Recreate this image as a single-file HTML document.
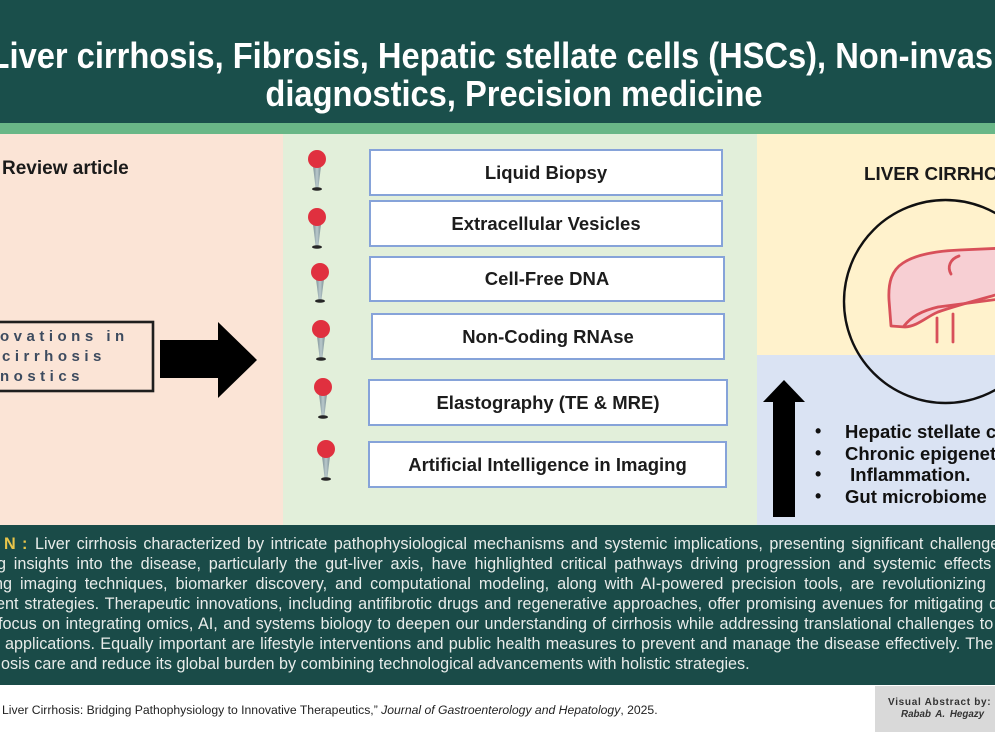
<!DOCTYPE html>
<html><head><meta charset="utf-8">
<style>
html,body{margin:0;padding:0;overflow:hidden;width:995px;height:740px;}
body{background:#fff;font-family:"Liberation Sans",Arial,sans-serif;}
#wrap{position:relative;width:995px;height:740px;overflow:hidden;}
.a{position:absolute;}
.t{position:absolute;white-space:nowrap;}
.box{position:absolute;box-sizing:border-box;border:2px solid #86a3d9;background:#fff;display:flex;align-items:center;justify-content:center;font-weight:bold;font-size:18.5px;color:#1c1c1c;white-space:nowrap;}
.bl{position:absolute;white-space:nowrap;font-size:16.2px;line-height:20px;color:#e8ecea;}
</style></head><body>
<div id="wrap">

<!-- header -->
<div class="a" style="left:0;top:0;width:995px;height:123px;background:#1a4f4b"></div>
<div class="a" style="left:0;top:123px;width:995px;height:11px;background:#69b787"></div>
<div class="t" style="left:-136.5px;top:37px;width:1300px;text-align:center;color:#fff;font-weight:bold;font-size:36px;line-height:38px;transform:scaleX(0.907);transform-origin:650px 0;">Liver cirrhosis, Fibrosis, Hepatic stellate cells (HSCs), Non-invasive<br>diagnostics, Precision medicine</div>

<!-- panels -->
<div class="a" style="left:0;top:134px;width:283px;height:391px;background:#fbe4d6"></div>
<div class="a" style="left:283px;top:134px;width:474px;height:391px;background:#e2efda"></div>
<div class="a" style="left:757px;top:134px;width:238px;height:221px;background:#fff2cc"></div>
<div class="a" style="left:757px;top:355px;width:238px;height:170px;background:#dae3f3"></div>

<!-- bottom band -->
<div class="a" style="left:0;top:525px;width:995px;height:160px;background:#1a4b48"></div>

<!-- shapes -->
<svg class="a" style="left:0;top:0" width="995" height="740" viewBox="0 0 995 740">
  <defs>
    <linearGradient id="stem" x1="0" x2="1" y1="0" y2="0">
      <stop offset="0" stop-color="#7d9196"/>
      <stop offset="0.5" stop-color="#b9c9cc"/>
      <stop offset="1" stop-color="#7d9196"/>
    </linearGradient>
  </defs>
  <rect x="-4" y="322" width="157" height="69" fill="none" stroke="#1e1e1e" stroke-width="2.6"/>
  <rect x="160" y="340" width="59" height="38" fill="#000"/>
  <polygon points="218,322 257,360 218,398" fill="#000"/>
  <g>
    <g transform="translate(317,159)"><polygon points="-4,7 4,7 1.4,29 -1.4,29" fill="url(#stem)"/><ellipse cx="0" cy="30" rx="5" ry="1.8" fill="#262626"/><circle cx="0" cy="0" r="9" fill="#e0303f"/></g>
    <g transform="translate(317,217)"><polygon points="-4,7 4,7 1.4,29 -1.4,29" fill="url(#stem)"/><ellipse cx="0" cy="30" rx="5" ry="1.8" fill="#262626"/><circle cx="0" cy="0" r="9" fill="#e0303f"/></g>
    <g transform="translate(320,272)"><polygon points="-4,7 4,7 1.4,28 -1.4,28" fill="url(#stem)"/><ellipse cx="0" cy="29" rx="5" ry="1.8" fill="#262626"/><circle cx="0" cy="0" r="9" fill="#e0303f"/></g>
    <g transform="translate(321,329)"><polygon points="-4,7 4,7 1.4,29 -1.4,29" fill="url(#stem)"/><ellipse cx="0" cy="30" rx="5" ry="1.8" fill="#262626"/><circle cx="0" cy="0" r="9" fill="#e0303f"/></g>
    <g transform="translate(323,387)"><polygon points="-4,7 4,7 1.4,29 -1.4,29" fill="url(#stem)"/><ellipse cx="0" cy="30" rx="5" ry="1.8" fill="#262626"/><circle cx="0" cy="0" r="9" fill="#e0303f"/></g>
    <g transform="translate(326,449)"><polygon points="-4,7 4,7 1.4,29 -1.4,29" fill="url(#stem)"/><ellipse cx="0" cy="30" rx="5" ry="1.8" fill="#262626"/><circle cx="0" cy="0" r="9" fill="#e0303f"/></g>
  </g>
  <circle cx="945.5" cy="301.5" r="101.5" fill="none" stroke="#111" stroke-width="2.4"/>
  <g stroke="#d8505a" stroke-width="2.8" stroke-linejoin="round" stroke-linecap="round">
    <path d="M889,300 C888,282 892,270 903,263 C915,255 935,251 960,250 L1005,248 L1005,292 L992,296 C970,302 952,307 938,312 C926,317 918,326 905,327 L891,326 Z" fill="#f7cfd3"/>
    <path d="M904,326 C911,317 921,311 938,307 L1000,299" fill="none"/>
    <path d="M959,256 C950,259 947,267 951,274" fill="none"/>
    <line x1="937" y1="318" x2="937" y2="342"/>
    <line x1="953" y1="314" x2="953" y2="342"/>
  </g>
  <rect x="773" y="400" width="22" height="117" fill="#000"/>
  <polygon points="763,402 784,380 805,402" fill="#000"/>
  <rect x="875" y="686" width="120" height="46" fill="#d9d9d9"/>
</svg>

<!-- left panel text -->
<div class="t" style="left:2px;top:159px;font-size:19px;line-height:20px;font-weight:bold;color:#1a1a1a">Review article</div>
<div class="t" style="left:0;top:327px;font-size:15px;line-height:20px;font-weight:bold;color:#3d4b5f;letter-spacing:4.5px">ovations in</div>
<div class="t" style="left:2px;top:347px;font-size:15px;line-height:20px;font-weight:bold;color:#3d4b5f;letter-spacing:4.5px">cirrhosis</div>
<div class="t" style="left:0;top:367px;font-size:15px;line-height:20px;font-weight:bold;color:#3d4b5f;letter-spacing:4.5px">nostics</div>

<!-- middle boxes -->
<div class="box" style="left:369px;top:149px;width:354px;height:47px">Liquid Biopsy</div>
<div class="box" style="left:369px;top:200px;width:354px;height:47px">Extracellular Vesicles</div>
<div class="box" style="left:369px;top:256px;width:356px;height:46px">Cell-Free DNA</div>
<div class="box" style="left:371px;top:313px;width:354px;height:47px">Non-Coding RNAse</div>
<div class="box" style="left:368px;top:379px;width:360px;height:47px">Elastography (TE &amp; MRE)</div>
<div class="box" style="left:368px;top:441px;width:359px;height:47px">Artificial Intelligence in Imaging</div>

<!-- right panel text -->
<div class="t" style="left:864px;top:164px;font-size:18.8px;line-height:20px;font-weight:bold;color:#1a1a1a">LIVER CIRRHOSIS</div>
<div class="t" style="left:815px;top:421px;font-size:18px;line-height:21.7px;font-weight:bold;color:#111">•<br>•<br>•<br>•</div>
<div class="t" style="left:845px;top:421px;font-size:18.5px;line-height:21.7px;font-weight:bold;color:#111">Hepatic stellate cells<br>Chronic epigenetic<br>&nbsp;Inflammation.<br>Gut microbiome</div>

<!-- bottom text -->
<div class="t" style="left:4px;top:534px;font-size:16.2px;line-height:20px;font-weight:bold;color:#e9c54a">N</div>
<div class="t" style="left:22px;top:534px;font-size:16.2px;line-height:20px;font-weight:bold;color:#e9c54a">:</div>
<div class="bl" style="left:35px;top:534px;word-spacing:2.0px">Liver cirrhosis characterized by intricate pathophysiological mechanisms and systemic implications, presenting significant challenges</div>
<div class="bl" style="left:-3px;top:554px;word-spacing:3.3px">g insights into the disease, particularly the gut-liver axis, have highlighted critical pathways driving progression and systemic effects</div>
<div class="bl" style="left:-6px;top:574px;word-spacing:3.5px">ng imaging techniques, biomarker discovery, and computational modeling, along with AI-powered precision tools, are revolutionizing</div>
<div class="bl" style="left:-4px;top:594px;word-spacing:1.4px">ent strategies. Therapeutic innovations, including antifibrotic drugs and regenerative approaches, offer promising avenues for mitigating disease</div>
<div class="bl" style="left:-2px;top:614px;word-spacing:0.95px">focus on integrating omics, AI, and systems biology to deepen our understanding of cirrhosis while addressing translational challenges to</div>
<div class="bl" style="left:5px;top:634px;word-spacing:0.8px">applications. Equally important are lifestyle interventions and public health measures to prevent and manage the disease effectively. The</div>
<div class="bl" style="left:1px;top:654px;">osis care and reduce its global burden by combining technological advancements with holistic strategies.</div>

<!-- footer -->
<div class="t" style="left:2px;top:703px;font-size:12.2px;line-height:14px;color:#222">Liver Cirrhosis: Bridging Pathophysiology to Innovative Therapeutics,” <i>Journal of Gastroenterology and Hepatology</i>, 2025.</div>
<div class="t" style="left:888px;top:697px;font-size:10px;line-height:12px;font-weight:bold;letter-spacing:0.7px;color:#333">Visual Abstract by:</div>
<div class="t" style="left:901px;top:709px;font-size:9.8px;line-height:12px;font-style:italic;font-weight:bold;word-spacing:2px;color:#333">Rabab A. Hegazy</div>

</div>
</body></html>
